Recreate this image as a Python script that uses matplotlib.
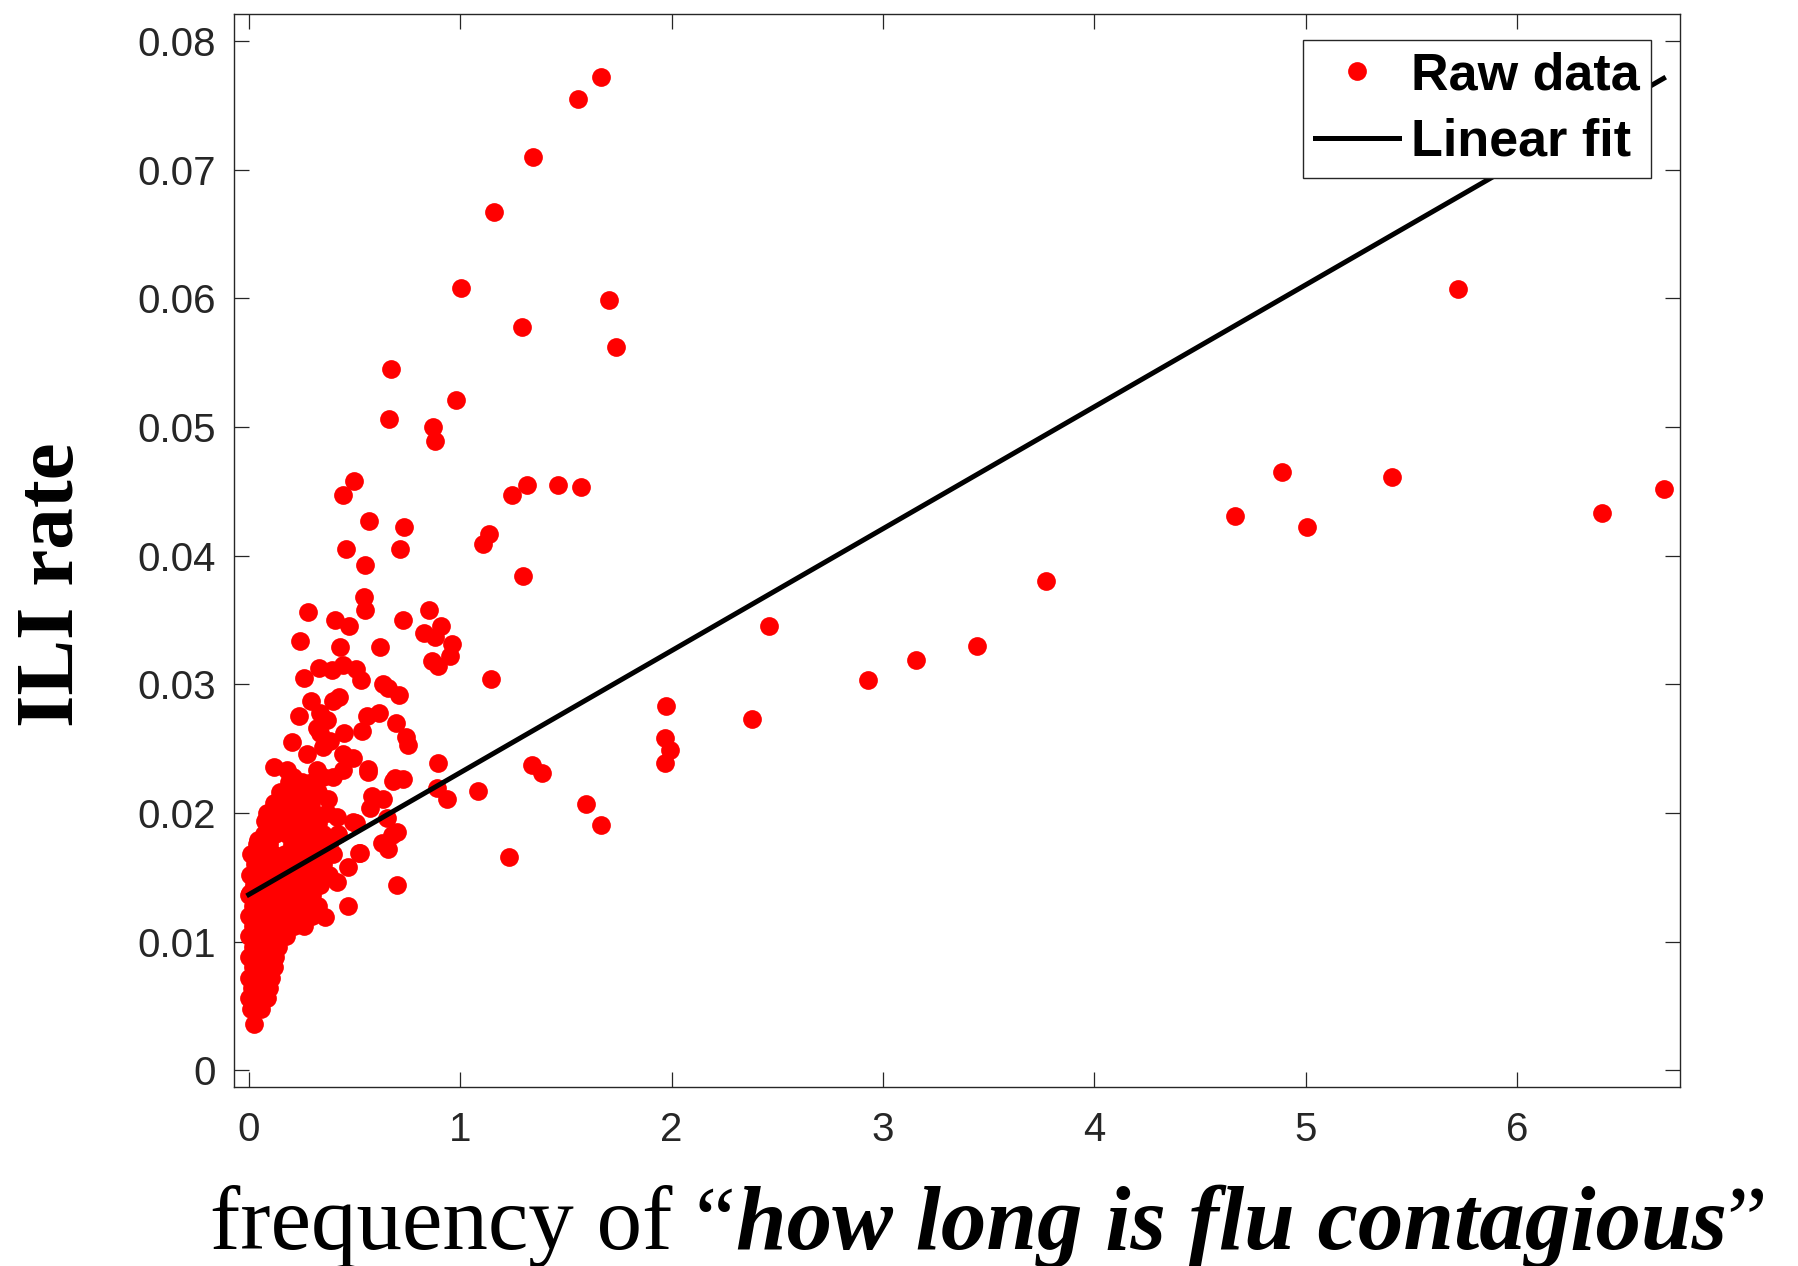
import matplotlib.pyplot as plt
import numpy as np

# .. Isolated points (search frequency, ILI rate), read one by one.
far_points = [
    (1.667, 0.0772), (1.556, 0.0755), (1.345, 0.0710), (1.160, 0.0667),
    (1.003, 0.0608), (1.291, 0.0578), (1.703, 0.0599), (1.737, 0.0562),
    (0.672, 0.0545), (0.662, 0.0506), (0.982, 0.0521), (0.873, 0.0500),
    (0.879, 0.0489), (1.243, 0.0447), (1.317, 0.0455), (1.463, 0.0455),
    (1.574, 0.0453), (1.136, 0.0417), (1.106, 0.0409), (1.296, 0.0384),
    (1.144, 0.0304), (2.462, 0.0345), (2.928, 0.0303), (3.156, 0.0319),
    (3.444, 0.0330), (3.769, 0.0380), (4.664, 0.0431), (4.886, 0.0465),
    (5.005, 0.0422), (5.407, 0.0461), (5.721, 0.0607), (6.399, 0.0433),
    (6.692, 0.0452), (1.976, 0.0283), (1.968, 0.0258), (1.991, 0.0249),
    (1.971, 0.0239), (2.381, 0.0273), (1.338, 0.0237), (1.385, 0.0231),
    (1.594, 0.0207), (1.665, 0.0191), (1.085, 0.0217), (1.230, 0.0166),
]

# .. Scattered points around the main cluster.
mid_points = [
    (0.497, 0.0458), (0.446, 0.0447), (0.568, 0.0427), (0.735, 0.0422),
    (0.460, 0.0405), (0.715, 0.0405), (0.551, 0.0393), (0.545, 0.0368),
    (0.551, 0.0358), (0.281, 0.0356), (0.409, 0.0350), (0.475, 0.0345),
    (0.729, 0.0350), (0.853, 0.0358), (0.909, 0.0345), (0.830, 0.0340),
    (0.881, 0.0337), (0.961, 0.0331), (0.952, 0.0322), (0.867, 0.0318),
    (0.895, 0.0314), (0.244, 0.0334), (0.432, 0.0329), (0.621, 0.0329),
    (0.262, 0.0305), (0.333, 0.0313), (0.395, 0.0311), (0.446, 0.0315),
    (0.508, 0.0312), (0.531, 0.0303), (0.635, 0.0300), (0.710, 0.0292),
    (0.659, 0.0297), (0.295, 0.0287), (0.427, 0.0290), (0.399, 0.0287),
    (0.238, 0.0275), (0.338, 0.0278), (0.371, 0.0272), (0.560, 0.0275),
    (0.617, 0.0278), (0.697, 0.0270), (0.744, 0.0259), (0.754, 0.0253),
    (0.537, 0.0264), (0.451, 0.0262), (0.323, 0.0266), (0.205, 0.0255),
    (0.895, 0.0239), (0.120, 0.0236), (0.352, 0.0251), (0.494, 0.0243),
    (0.565, 0.0234), (0.692, 0.0227), (0.729, 0.0226), (0.274, 0.0246),
    (0.337, 0.0262), (0.384, 0.0256), (0.447, 0.0246), (0.321, 0.0233),
    (0.400, 0.0228), (0.179, 0.0233), (0.890, 0.0219), (0.937, 0.0211),
    (0.210, 0.0228), (0.352, 0.0228), (0.446, 0.0233), (0.564, 0.0232),
    (0.682, 0.0225), (0.172, 0.0212), (0.276, 0.0212), (0.376, 0.0211),
    (0.574, 0.0204), (0.636, 0.0211), (0.078, 0.0194), (0.494, 0.0193),
    (0.418, 0.0197), (0.654, 0.0196), (0.701, 0.0185), (0.631, 0.0177),
    (0.659, 0.0172), (0.701, 0.0144), (0.045, 0.0179), (0.527, 0.0169),
    (0.470, 0.0158), (0.418, 0.0146), (0.470, 0.0128), (0.361, 0.0119),
    (0.005, 0.0138), (0.582, 0.0213), (0.506, 0.0192), (0.680, 0.0183),
    (0.522, 0.0169),
]

# .. Dense core near the origin (overlapping markers, estimated).
core_points = [
    (0.025, 0.0036),
    (0.010, 0.0048), (0.060, 0.0048),
    (0.000, 0.0056), (0.040, 0.0056), (0.085, 0.0056),
    (0.015, 0.0064), (0.055, 0.0064), (0.095, 0.0064),
    (0.000, 0.0072), (0.040, 0.0072), (0.080, 0.0072), (0.105, 0.0072),
    (0.020, 0.0080), (0.060, 0.0080), (0.100, 0.0080), (0.120, 0.0080),
    (0.000, 0.0088), (0.045, 0.0088), (0.085, 0.0088), (0.125, 0.0088),
    (0.020, 0.0096), (0.065, 0.0096), (0.110, 0.0096), (0.140, 0.0096),
    (0.000, 0.0104), (0.045, 0.0104), (0.090, 0.0104), (0.135, 0.0104),
    (0.175, 0.0104),
    (0.020, 0.0112), (0.065, 0.0112), (0.115, 0.0112), (0.165, 0.0112),
    (0.215, 0.0112), (0.260, 0.0112),
    (0.000, 0.0120), (0.045, 0.0120), (0.095, 0.0120), (0.145, 0.0120),
    (0.195, 0.0120), (0.245, 0.0120), (0.300, 0.0120),
    (0.020, 0.0128), (0.070, 0.0128), (0.120, 0.0128), (0.170, 0.0128),
    (0.220, 0.0128), (0.275, 0.0128), (0.330, 0.0128),
    (0.000, 0.0136), (0.045, 0.0136), (0.095, 0.0136), (0.150, 0.0136),
    (0.200, 0.0136), (0.250, 0.0136), (0.300, 0.0136),
    (0.025, 0.0144), (0.075, 0.0144), (0.125, 0.0144), (0.180, 0.0144),
    (0.230, 0.0144), (0.280, 0.0144), (0.335, 0.0144),
    (0.005, 0.0152), (0.055, 0.0152), (0.105, 0.0152), (0.160, 0.0152),
    (0.210, 0.0152), (0.265, 0.0152), (0.320, 0.0152), (0.380, 0.0152),
    (0.030, 0.0160), (0.085, 0.0160), (0.135, 0.0160), (0.190, 0.0160),
    (0.240, 0.0160), (0.300, 0.0160), (0.350, 0.0160),
    (0.010, 0.0168), (0.060, 0.0168), (0.115, 0.0168), (0.170, 0.0168),
    (0.225, 0.0168), (0.280, 0.0168), (0.340, 0.0168), (0.400, 0.0168),
    (0.040, 0.0176), (0.095, 0.0176), (0.205, 0.0176), (0.260, 0.0176),
    (0.320, 0.0176), (0.380, 0.0176),
    (0.070, 0.0184), (0.125, 0.0184), (0.180, 0.0184), (0.235, 0.0184),
    (0.290, 0.0184), (0.350, 0.0184), (0.420, 0.0184),
    (0.100, 0.0192), (0.155, 0.0192), (0.215, 0.0192), (0.270, 0.0192),
    (0.330, 0.0192),
    (0.085, 0.0200), (0.140, 0.0200), (0.195, 0.0200), (0.250, 0.0200),
    (0.310, 0.0200), (0.370, 0.0200),
    (0.120, 0.0208), (0.180, 0.0208), (0.235, 0.0208), (0.295, 0.0208),
    (0.150, 0.0216), (0.210, 0.0216), (0.270, 0.0216), (0.330, 0.0216),
    (0.190, 0.0224), (0.250, 0.0224), (0.300, 0.0224),
]

# .. Linear fit.
fit_intercept = 0.01365
fit_slope = 0.00948

y_ticks = [0, 0.01, 0.02, 0.03, 0.04, 0.05, 0.06, 0.07, 0.08]
y_tick_labels = ["0", "0.01", "0.02", "0.03", "0.04", "0.05", "0.06", "0.07", "0.08"]
x_ticks = [0, 1, 2, 3, 4, 5, 6]
x_tick_labels = ["0", "1", "2", "3", "4", "5", "6"]

all_points = np.array(core_points + mid_points + far_points)
freq = all_points[:, 0]
rate = all_points[:, 1]

fit_x = np.array([freq.min(), freq.max()])
fit_y = fit_intercept + fit_slope * fit_x

# .. Figure layout.
fig = plt.figure(figsize=(17.98, 12.66), dpi=100)
ax = fig.add_axes([0.1301, 0.1414, 0.8043, 0.8476])

axis_color = "#262626"

ax.plot(freq, rate, "o", color="#ff0000", markersize=13.5,
        markeredgewidth=0, label="Raw data")
ax.plot(fit_x, fit_y, "-", color="black", linewidth=3.6, label="Linear fit")

ax.set_xlim(-0.07, 6.77)
ax.set_ylim(-0.0013, 0.0821)
ax.set_xticks(x_ticks)
ax.set_xticklabels(x_tick_labels)
ax.set_yticks(y_ticks)
ax.set_yticklabels(y_tick_labels)

for spine in ax.spines.values():
    spine.set_color(axis_color)
    spine.set_linewidth(1.0)

ax.tick_params(axis="both", which="major", direction="in", length=10.8,
               width=0.9, color=axis_color, labelcolor=axis_color,
               top=True, right=True, labelsize=29)
ax.tick_params(axis="y", pad=13)
ax.tick_params(axis="x", pad=17)
for lab in ax.get_xticklabels() + ax.get_yticklabels():
    lab.set_family("Liberation Sans")

leg = ax.legend(loc="upper right", bbox_to_anchor=(0.98, 0.976),
                borderaxespad=0.0, frameon=True, fancybox=False,
                framealpha=1.0, edgecolor=axis_color,
                prop={"family": "Liberation Sans", "weight": "bold",
                      "size": 37.5},
                handlelength=1.63, handletextpad=0.22, borderpad=0.22,
                labelspacing=0.34)
leg.get_frame().set_linewidth(1.0)

# .. Axis labels in a serif face.
fig.text(54 / 1798, 1 - 585 / 1266, "ILI rate", rotation=90,
         ha="center", va="center", family="Liberation Serif",
         weight="bold", fontsize=60)

label_size = 65.5
part1 = fig.text(210 / 1798, 1 - 1249 / 1266, "frequency of \u201c",
                 ha="left", va="baseline", family="Liberation Serif",
                 fontsize=label_size)
part2 = ax.annotate("how long is flu contagious", xy=(1, 0),
                    xycoords=part1, ha="left", va="bottom",
                    family="Liberation Serif", weight="bold",
                    style="italic", fontsize=label_size,
                    annotation_clip=False)
ax.annotate("\u201d", xy=(1, 0), xycoords=part2, ha="left", va="bottom",
            family="Liberation Serif", fontsize=label_size,
            annotation_clip=False)

fig.savefig("out.png", dpi=100)
